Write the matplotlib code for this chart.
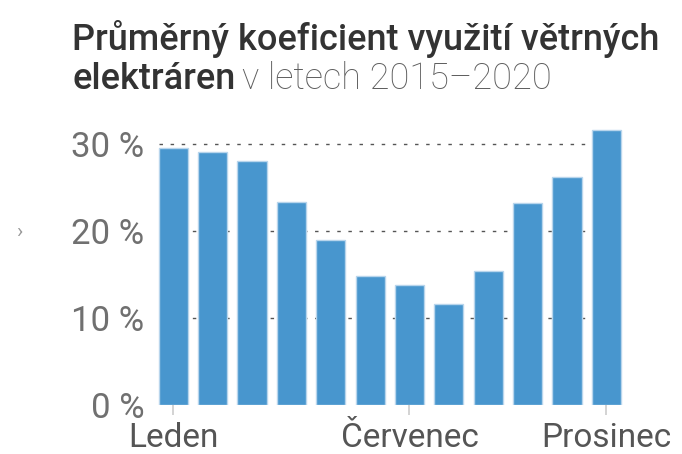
import matplotlib
matplotlib.use('Agg')
import matplotlib.pyplot as plt

# data
months = ['Leden', 'Únor', 'Březen', 'Duben', 'Květen', 'Červen',
          'Červenec', 'Srpen', 'Září', 'Říjen', 'Listopad', 'Prosinec']
capacity_factor = [29.5, 29.1, 28.1, 23.3, 19.0, 14.8, 13.8, 11.6, 15.4, 23.2, 26.2, 31.6]
shown_ticks = [0, 6, 11]
y_ticks = [0, 10, 20, 30]

plt.rcParams['font.family'] = ['Roboto', 'DejaVu Sans']

fig = plt.figure(figsize=(6.82, 4.54), dpi=100)
ax = fig.add_axes([0.228, 0.108, 0.687, 0.632])

x = list(range(len(months)))
ax.bar(x, capacity_factor, width=0.74, color='#4896ce',
       edgecolor='#b8d5ec', linewidth=1.0, zorder=2)

ax.set_xlim(-0.45, 11.45)
ax.set_ylim(0, 33.0)
ax.set_yticks(y_ticks)
ax.set_yticklabels([f'{v} %' for v in y_ticks])
ax.set_xticks([x[i] for i in shown_ticks])
ax.set_xticklabels([months[i] for i in shown_ticks])

for v in y_ticks[1:]:
    ax.plot([-0.37, 10.63], [v, v], color='#555555', linewidth=1.0,
            linestyle=(0, (2.5, 5.5)), zorder=1)

for s in ax.spines.values():
    s.set_visible(False)
ax.tick_params(axis='y', length=0, pad=8, labelsize=25, labelcolor='#707070')
ax.tick_params(axis='x', length=7, width=1.2, color='#cccccc', pad=5,
               labelsize=24, labelcolor='#555555')

# title
fig.text(0.106, 0.89, 'Průměrný koeficient využití větrných', fontsize=26,
         fontweight='medium', color='#333333', va='baseline')
t = fig.text(0.106, 0.804, 'elektráren', fontsize=26, fontweight='medium',
             color='#333333', va='baseline')
fig.canvas.draw()
bb = t.get_window_extent()
fig.text(bb.x1 / fig.bbox.width + 0.01, 0.804, 'v letech 2015–2020', fontsize=26,
         fontweight='light', color='#5e5e5e', va='baseline')

fig.text(0.028, 0.487, '›', fontsize=15, color='#999999', va='center', ha='center')

plt.savefig('out.png', dpi=100)
